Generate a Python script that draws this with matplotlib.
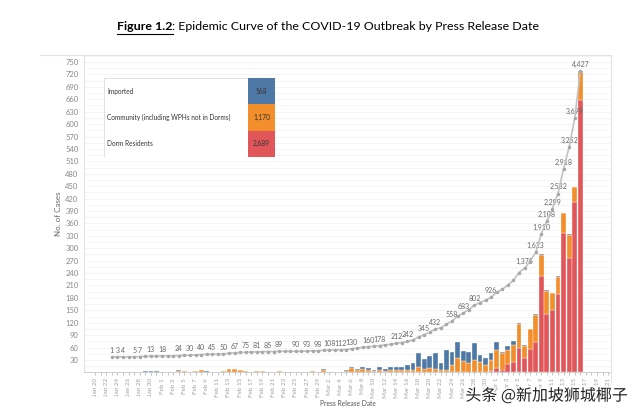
import matplotlib
matplotlib.use('Agg')
import matplotlib.pyplot as plt
import matplotlib.patheffects as pe
from matplotlib.lines import Line2D
from matplotlib.patches import Rectangle
import numpy as np
import pandas as pd

# daily new cases by press release date, Jan 23 .. Apr 16 2020
dates = pd.date_range('2020-01-23', '2020-04-16')
imported = [1, 2, 1, 0, 1, 2, 3, 3, 3,
            2, 0, 0, 2, 0, 0, 0, 0, 1, 0, 0, 0, 0, 0, 0, 0, 0, 0, 0, 0, 0, 0, 0, 0, 0, 0, 0, 0, 0,
            2, 0, 1, 1, 2, 2, 2, 3, 3, 3, 7, 5, 8, 7, 8, 11, 16, 33, 24, 30, 39, 17, 48, 32, 38,
            24, 26, 41, 18, 16, 16,
            20, 3, 11, 8, 4, 1, 1, 3, 3, 2, 0, 2, 2, 2, 0, 2]
community = [0, 0, 0, 0, 0, 0, 0, 0, 0,
             0, 0, 0, 4, 4, 2, 3, 7, 2, 2, 2, 3, 8, 9, 5, 3, 2, 4, 3, 1, 1, 3, 0, 0, 1, 1, 2, 3, 2,
             6, 2, 1, 1, 3, 11, 6, 9, 7, 3, 5, 4, 5, 5, 5, 6, 7, 14, 9, 10, 8, 6, 6, 17, 35,
             28, 23, 29, 24, 17, 28,
             44, 40, 34, 41, 57, 30, 48, 66, 51, 55, 40, 42, 46, 55, 36, 68]
dorm = [0] * 9 + [0] * 29 + [0] * 29 + [2, 3] + \
       [10, 6, 20, 26, 59, 35, 57, 73, 233, 141, 151, 189, 338, 277, 411, 658]

categories = ['Imported', 'Community (including WPHs not in Dorms)', 'Dorm Residents']
colors = ['#4e79a7', '#f28e2b', '#e15759']

label_days = ['Jan 23', 'Jan 24', 'Jan 25', 'Jan 27', 'Jan 28', 'Jan 30', 'Feb 1', 'Feb 4',
              'Feb 6', 'Feb 8', 'Feb 10', 'Feb 12', 'Feb 14', 'Feb 16', 'Feb 18', 'Feb 20',
              'Feb 22', 'Feb 25', 'Feb 27', 'Feb 29', 'Mar 2', 'Mar 4', 'Mar 6', 'Mar 9',
              'Mar 11', 'Mar 14', 'Mar 16', 'Mar 19', 'Mar 21', 'Mar 24', 'Mar 26', 'Mar 28',
              'Mar 31', 'Apr 6', 'Apr 8', 'Apr 9', 'Apr 10', 'Apr 11', 'Apr 12', 'Apr 13',
              'Apr 14', 'Apr 15', 'Apr 16']

imp = np.array(imported)
com = np.array(community)
drm = np.array(dorm)
total = imp + com + drm
cum = np.cumsum(total)

start = pd.Timestamp('2020-01-20')
x = np.array((dates - start).days)
fmt = lambda d: f"{d:%b} {d.day}"

plt.rcParams['font.family'] = ['Lato', 'DejaVu Sans']
fig = plt.figure(figsize=(6.4, 4.16), dpi=100)
W, H = 640, 416

ax = fig.add_axes([84 / W, 1 - 372.4 / H, (611 - 84) / W, (372.4 - 55) / H])
ax.set_xlim(-2.0, 92.5)
ax.set_ylim(0, 767)

bw = 0.86
ax.bar(x, drm, width=bw, color=colors[2], edgecolor='white', linewidth=0.25, zorder=3)
ax.bar(x, com, width=bw, bottom=drm, color=colors[1], edgecolor='white', linewidth=0.25, zorder=3)
ax.bar(x, imp, width=bw, bottom=drm + com, color=colors[0], edgecolor='white', linewidth=0.25, zorder=3)

# faint background rules
for v in np.arange(15, 767, 15):
    ax.axhline(v, color='#f2f2f2', lw=0.5, zorder=0)

ax.set_yticks(np.arange(30, 751, 30))
ax.tick_params(axis='y', length=0, labelsize=5.5, labelcolor='#888888', pad=4)

all_days = pd.date_range(start, periods=93)
ax.set_xticks(np.arange(0, 93), minor=True)
ax.set_xticks(np.arange(0, 93, 2))
ax.set_xticklabels([fmt(d) for d in all_days[::2]], rotation=90, fontsize=4.5, color='#a0a0a0')
ax.tick_params(axis='x', which='both', length=2, color='#aaaaaa', width=0.5, pad=2)

for s in ['top', 'right']:
    ax.spines[s].set_visible(False)
ax.spines['left'].set_color('#d5dde6')
ax.spines['left'].set_linewidth(0.6)
ax.spines['bottom'].set_color('#c8c8c8')
ax.spines['bottom'].set_linewidth(0.6)

ax.set_ylabel('No. of Cases', fontsize=5.8, color='#666666', labelpad=2)
ax.set_xlabel('Press Release Date', fontsize=4.8, color='#555555', labelpad=1)

# cumulative line on a hidden second scale
ax2 = ax.twinx()
ax2.set_ylim(-237, 4676)
ax2.plot(x, cum, color='#c2c2c2', lw=1.2, marker='o', ms=1.5, mfc='#a8a8a8', mec='#a8a8a8', zorder=4)
day_names = [fmt(d) for d in dates]
for lbl in label_days:
    i = day_names.index(lbl)
    ax2.annotate(f"{cum[i]:,}", (x[i], cum[i]), xytext=(0, 2.2), textcoords='offset points',
                 ha='center', va='bottom', fontsize=5, color='#666666')
ax2.axis('off')

# frame lines of the view
fig.add_artist(Line2D([40 / W, 611 / W], [1 - 55 / H, 1 - 55 / H], color='#e3e3e3', lw=0.8))
fig.add_artist(Line2D([611 / W, 611 / W], [1 - 55 / H, 1 - 382 / H], color='#e3e3e3', lw=0.8))

# colour legend table
lax = fig.add_axes([104 / W, 1 - 157 / H, (275 - 104) / W, (157 - 78) / H], zorder=5)
lax.set_xlim(0, 1)
lax.set_ylim(0, 3)
lax.axis('off')
lax.add_patch(Rectangle((0, 0), 1, 3, facecolor='white', edgecolor='#dddddd', lw=0.6))
totals = [imp.sum(), com.sum(), drm.sum()]
for k, (name, c, t) in enumerate(zip(categories, colors, totals)):
    yb = 2 - k
    lax.add_patch(Rectangle((0.843, yb), 0.157, 1, facecolor=c, edgecolor='none'))
    lax.text(0.02, yb + 0.5, name, fontsize=4.7, color='#333333', va='center', ha='left')
    lax.text(0.9215, yb + 0.5, f"{t:,}", fontsize=4.8, color='#333333', va='center', ha='center')

# title with bold underlined figure number
r = fig.canvas.get_renderer()
t1 = fig.text(117 / W, 1 - 27 / H, 'Figure 1.2', fontsize=8.95, fontweight='bold', va='center', ha='left')
bb = t1.get_window_extent(r)
t2 = fig.text(bb.x1 / W, 1 - 27 / H, ': Epidemic Curve of the COVID-19 Outbreak by Press Release Date',
              fontsize=8.95, va='center', ha='left')
fig.add_artist(Line2D([bb.x0 / W, bb.x1 / W], [(bb.y0 - 1) / H, (bb.y0 - 1) / H], color='black', lw=0.8))

# watermark
fig.text(628 / W, 1 - 396 / H, '头条 @新加坡狮城椰子', fontsize=11.5, ha='right', va='center',
         family=['Noto Sans CJK SC', 'DejaVu Sans'], color='#222222',
         path_effects=[pe.withStroke(linewidth=2, foreground='white')])

fig.savefig('out.png', dpi=100, facecolor='white')
